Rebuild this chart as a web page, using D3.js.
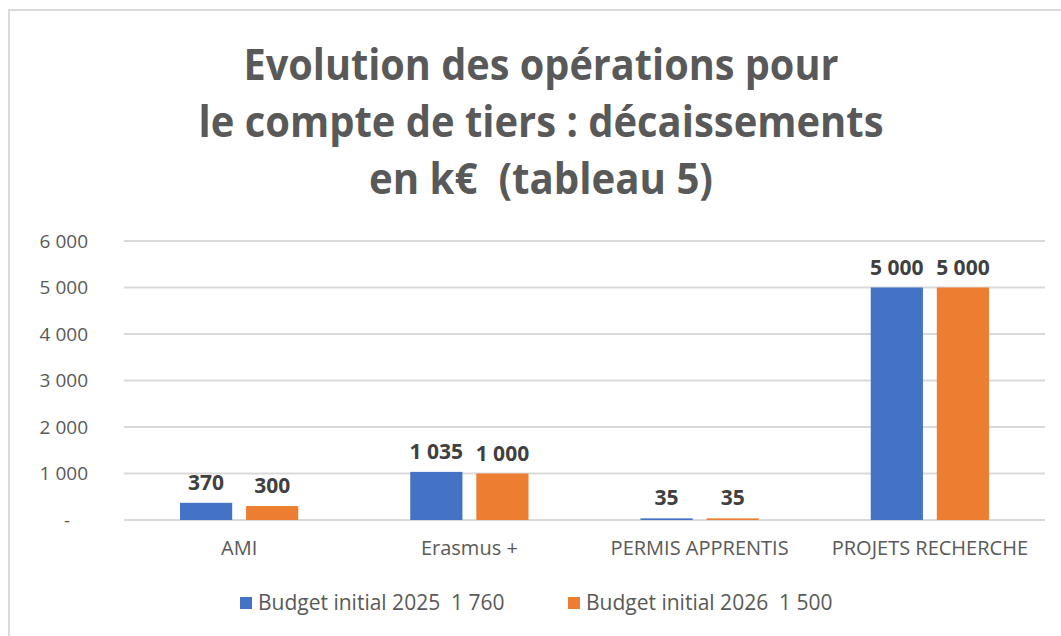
<!DOCTYPE html>
<html>
<head>
<meta charset="utf-8">
<script src="https://cdn.jsdelivr.net/npm/d3@7"></script>
<style>
  body { margin: 0; background: #fff; }
  text { font-family: "Open Sans", sans-serif; }
</style>
</head>
<body>
<div id="chart"></div>
<script>
// chart values
var categories = ["AMI", "Erasmus +", "PERMIS APPRENTIS", "PROJETS RECHERCHE"]
var seriesNames = ["Budget initial 2025  1 760", "Budget initial 2026  1 500"]
var budget2025 = [370, 1035, 35, 5000]
var budget2026 = [300, 1000, 35, 5000]
var yTicks = [0, 1000, 2000, 3000, 4000, 5000, 6000]
var titleLines = ["Evolution des opérations pour", "le compte de tiers : décaissements", "en k€  (tableau 5)"]

var colors = ["#4472C4", "#ED7D31"]

var svgWidth = 1061
var svgHeight = 636
var chartMargin = { top: 241, right: 16, bottom: 116, left: 124 }
var chartWidth = svgWidth - chartMargin.left - chartMargin.right
var chartHeight = svgHeight - chartMargin.top - chartMargin.bottom

var svg = d3.select("#chart")
    .append("svg")
    .attr("width", svgWidth)
    .attr("height", svgHeight)

// chart frame (only left and top edges visible in the crop)
svg.append("path")
    .attr("d", `M9,${svgHeight} V10 H${svgWidth}`)
    .attr("fill", "none")
    .attr("stroke", "#d9d9d9")
    .attr("stroke-width", 2)

// title, squeezed to the narrow look of the original
var titleWidths = [595, 685, 344]
titleLines.forEach(function (line, i) {
    svg.append("text")
        .attr("x", 541)
        .attr("y", 80 + i * 57)
        .attr("text-anchor", "middle")
        .attr("font-weight", "bold")
        .attr("font-size", "43px")
        .attr("fill", "#595959")
        .attr("textLength", titleWidths[i])
        .attr("lengthAdjust", "spacingAndGlyphs")
        .style("white-space", "pre")
        .text(line)
})

var chartGroup = svg.append("g")
    .attr("transform", `translate(${chartMargin.left},${chartMargin.top})`)

var x0 = d3.scaleBand()
    .domain(categories)
    .range([0, chartWidth])

var x1 = d3.scaleBand()
    .domain([0, 1])
    .range([56, x0.bandwidth() - 56])
    .paddingInner(0.21)

var yScale = d3.scaleLinear()
    .domain([0, 6000])
    .range([chartHeight, 0])

var fr = d3.formatLocale({ decimal: ",", thousands: "\u00a0", grouping: [3], currency: ["", "€"] })
var fmt = fr.format(",.0f")

// gridlines
chartGroup.append("g")
    .selectAll("line")
    .data(yTicks)
    .enter()
    .append("line")
    .attr("x1", 0)
    .attr("x2", chartWidth)
    .attr("y1", d => yScale(d))
    .attr("y2", d => yScale(d))
    .attr("stroke", "#d9d9d9")
    .attr("stroke-width", 2)

var rows = categories.map((c, i) => ({ cat: c, values: [budget2025[i], budget2026[i]] }))

var groups = chartGroup.selectAll(".cat")
    .data(rows)
    .enter()
    .append("g")
    .attr("transform", d => `translate(${x0(d.cat)},0)`)

groups.selectAll("rect")
    .data(d => d.values)
    .enter()
    .append("rect")
    .attr("x", (d, i) => x1(i))
    .attr("width", x1.bandwidth())
    .attr("y", d => yScale(d))
    .attr("height", d => chartHeight - yScale(d))
    .attr("fill", (d, i) => colors[i])

// y axis labels
var leftAxis = d3.axisLeft(yScale)
    .tickValues(yTicks)
    .tickSize(0)
    .tickPadding(36)
    .tickFormat(d => d === 0 ? "-" : fmt(d))
var yAxis = chartGroup.append("g").call(leftAxis)
yAxis.select(".domain").remove()
yAxis.selectAll("text")
    .attr("font-size", "19px")
    .attr("fill", "#595959")
    .attr("dx", d => d === 0 ? -18 : 0)

// x axis labels
var bottomAxis = d3.axisBottom(x0).tickSize(0).tickPadding(21)
var xAxis = chartGroup.append("g")
    .attr("transform", `translate(0,${chartHeight})`)
    .call(bottomAxis)
xAxis.select(".domain").remove()
xAxis.selectAll("text")
    .attr("font-size", "20px")
    .attr("fill", "#595959")

groups.selectAll(".lbl")
    .data(d => d.values)
    .enter()
    .append("text")
    .attr("class", "lbl")
    .attr("x", (d, i) => x1(i) + x1.bandwidth() / 2)
    .attr("y", d => yScale(d) - 13)
    .attr("text-anchor", "middle")
    .attr("font-size", "21px")
    .attr("font-weight", "bold")
    .attr("fill", "#404040")
    .text(d => fmt(d))

// legend
var legendX = [240, 568]
var legend = svg.selectAll(".legend")
    .data(seriesNames)
    .enter()
    .append("g")
    .attr("transform", (d, i) => `translate(${legendX[i]},597)`)
legend.append("rect")
    .attr("width", 12)
    .attr("height", 12)
    .attr("fill", (d, i) => colors[i])
legend.append("text")
    .attr("x", 18)
    .attr("y", 13)
    .attr("font-size", "21px")
    .attr("fill", "#595959")
    .style("white-space", "pre")
    .text(d => d)
</script>
</body>
</html>
